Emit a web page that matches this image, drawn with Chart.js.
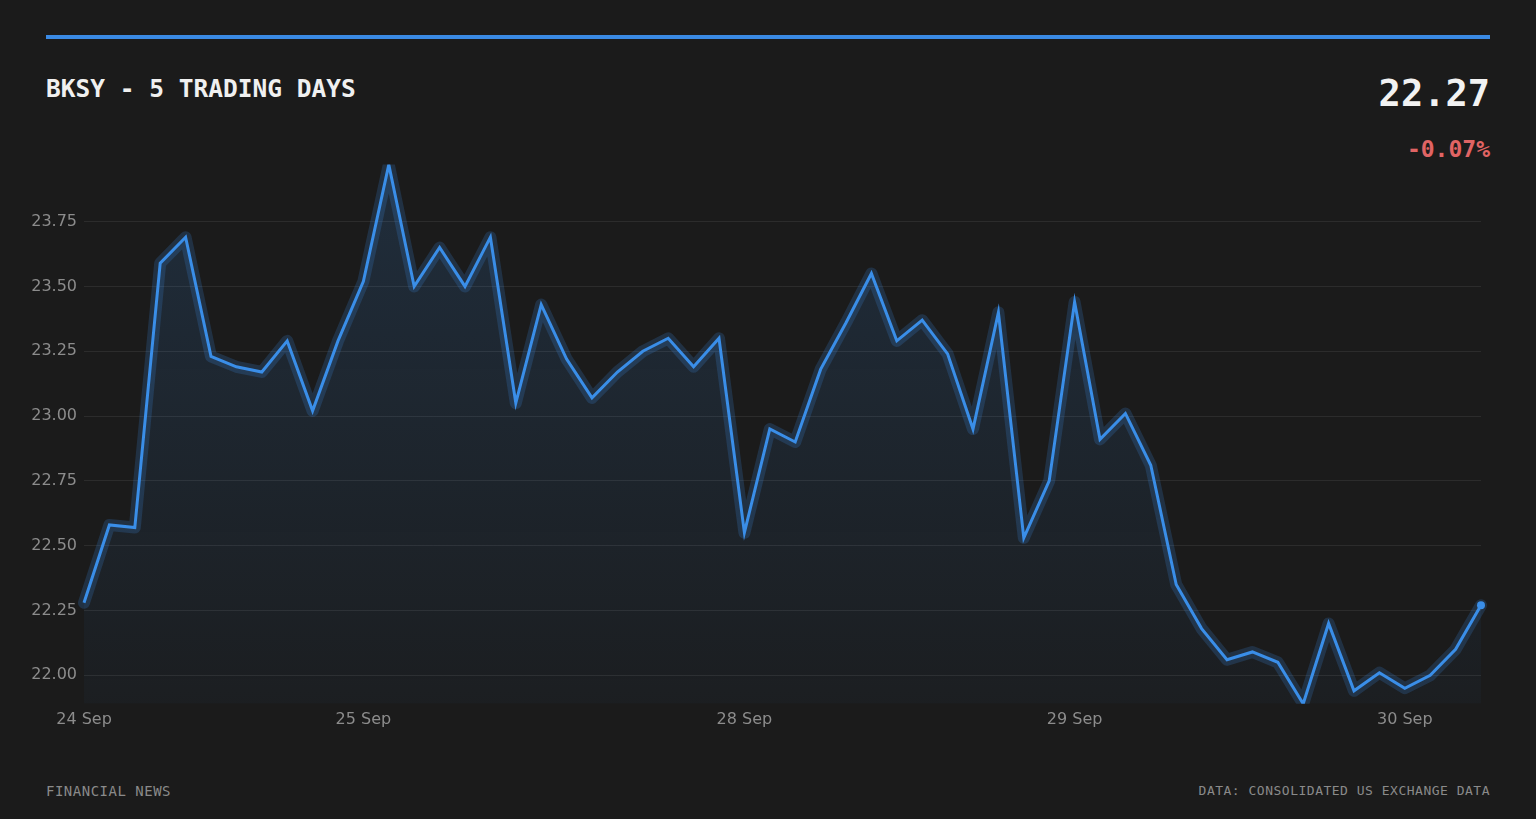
<!DOCTYPE html>
<html>
<head>
<meta charset="utf-8">
<title>BKSY - 5 Trading Days</title>
<script src="https://cdn.jsdelivr.net/npm/chart.js@4.4.1/dist/chart.umd.min.js"></script>
<style>
  html, body {
    margin: 0;
    padding: 0;
    width: 1536px;
    height: 819px;
    background: #1b1b1b;
    overflow: hidden;
    font-family: "DejaVu Sans Mono", monospace;
  }
  .topbar {
    position: absolute;
    left: 46px;
    top: 35px;
    width: 1444px;
    height: 4px;
    background: #3a8ae4;
  }
  .title {
    position: absolute;
    left: 46px;
    top: 74px;
    font-size: 24.5px;
    font-weight: bold;
    color: #f0f0f0;
    white-space: pre;
  }
  .price {
    position: absolute;
    right: 46px;
    top: 72px;
    font-size: 37px;
    font-weight: bold;
    color: #f2f2f2;
  }
  .change {
    position: absolute;
    right: 46px;
    top: 136px;
    font-size: 23px;
    font-weight: bold;
    color: #e06464;
  }
  .chart-box {
    position: absolute;
    left: 20px;
    top: 148px;
    width: 1472px;
    height: 587px;
  }
  .foot {
    position: absolute;
    top: 783px;
    color: #8a8a8a;
    white-space: pre;
  }
  .foot.left { left: 46px; font-size: 14px; letter-spacing: 0.5px; }
  .foot.right { right: 46px; font-size: 13px; letter-spacing: 0.5px; }
</style>
</head>
<body>
<div class="topbar"></div>
<div class="title">BKSY - 5 TRADING DAYS</div>
<div class="price">22.27</div>
<div class="change">-0.07%</div>
<div class="chart-box"><canvas id="chart"></canvas></div>
<div class="foot left">FINANCIAL NEWS</div>
<div class="foot right">DATA: CONSOLIDATED US EXCHANGE DATA</div>

<script>
// prices, one per sample
const prices = [
  22.28, 22.58, 22.57, 23.59, 23.69, 23.23, 23.19, 23.17, 23.29, 23.02, 23.29,
  23.52, 23.97, 23.50, 23.65, 23.50, 23.69, 23.05, 23.43, 23.22, 23.07, 23.17, 23.25, 23.30, 23.19, 23.30,
  22.55, 22.95, 22.90, 23.18, 23.36, 23.55, 23.29, 23.37, 23.24, 22.95, 23.40, 22.53, 22.75,
  23.44, 22.91, 23.01, 22.81, 22.35, 22.18, 22.06, 22.09, 22.05, 21.89, 22.20, 21.94, 22.01,
  21.95, 22.00, 22.10, 22.27
];

// trading days and where each one starts in the series
const dayLabels = ['24 Sep', '25 Sep', '28 Sep', '29 Sep', '30 Sep'];
const dayStarts = [0, 11, 26, 39, 52];

const categories = prices.map((_, i) => {
  let d = 0;
  dayStarts.forEach((s, k) => { if (i >= s) d = k; });
  return dayLabels[d];
});

const blue = '#3a8ee8';
const lastIdx = prices.length - 1;

function fillGradient(context) {
  const area = context.chart.chartArea;
  if (!area) return 'rgba(58,142,232,0.08)';
  const g = context.chart.ctx.createLinearGradient(0, area.top, 0, area.bottom);
  g.addColorStop(0, 'rgba(58,142,232,0.16)');
  g.addColorStop(1, 'rgba(58,142,232,0.03)');
  return g;
}

new Chart(document.getElementById('chart'), {
  type: 'line',
  data: {
    labels: categories,
    datasets: [
      {
        // main line
        data: prices,
        borderColor: blue,
        borderWidth: 3,
        backgroundColor: fillGradient,
        fill: 'start',
        tension: 0,
        pointRadius: ctx => ctx.dataIndex === lastIdx ? 4 : 0,
        pointBackgroundColor: blue,
        pointBorderWidth: 0,
        order: 1
      },
      {
        // soft halo under the line
        data: prices,
        borderColor: 'rgba(58,142,232,0.2)',
        borderWidth: 12,
        borderJoinStyle: 'round',
        borderCapStyle: 'round',
        fill: false,
        tension: 0,
        pointRadius: 0,
        order: 2
      }
    ]
  },
  options: {
    responsive: true,
    maintainAspectRatio: false,
    animation: false,
    layout: { padding: { top: 8, right: 11, left: 0, bottom: 0 } },
    plugins: {
      legend: { display: false },
      tooltip: { enabled: false }
    },
    scales: {
      x: {
        grid: { display: false, drawTicks: false },
        border: { display: false },
        ticks: {
          autoSkip: false,
          maxRotation: 0,
          minRotation: 0,
          padding: 6,
          color: '#8c8c8c',
          font: { family: 'DejaVu Sans', size: 16 },
          callback: function (value, index) {
            const k = dayStarts.indexOf(index);
            return k >= 0 ? dayLabels[k] : '';
          }
        }
      },
      y: {
        min: Math.min(...prices),
        max: Math.max(...prices),
        afterFit: scale => { scale.width = 64; },
        grid: { color: 'rgba(255,255,255,0.08)', drawTicks: false, lineWidth: 1 },
        border: { display: false },
        ticks: {
          stepSize: 0.25,
          includeBounds: false,
          padding: 7,
          color: '#8c8c8c',
          font: { family: 'DejaVu Sans', size: 16 },
          callback: v => Number(v).toFixed(2)
        }
      }
    }
  }
});
</script>
</body>
</html>
